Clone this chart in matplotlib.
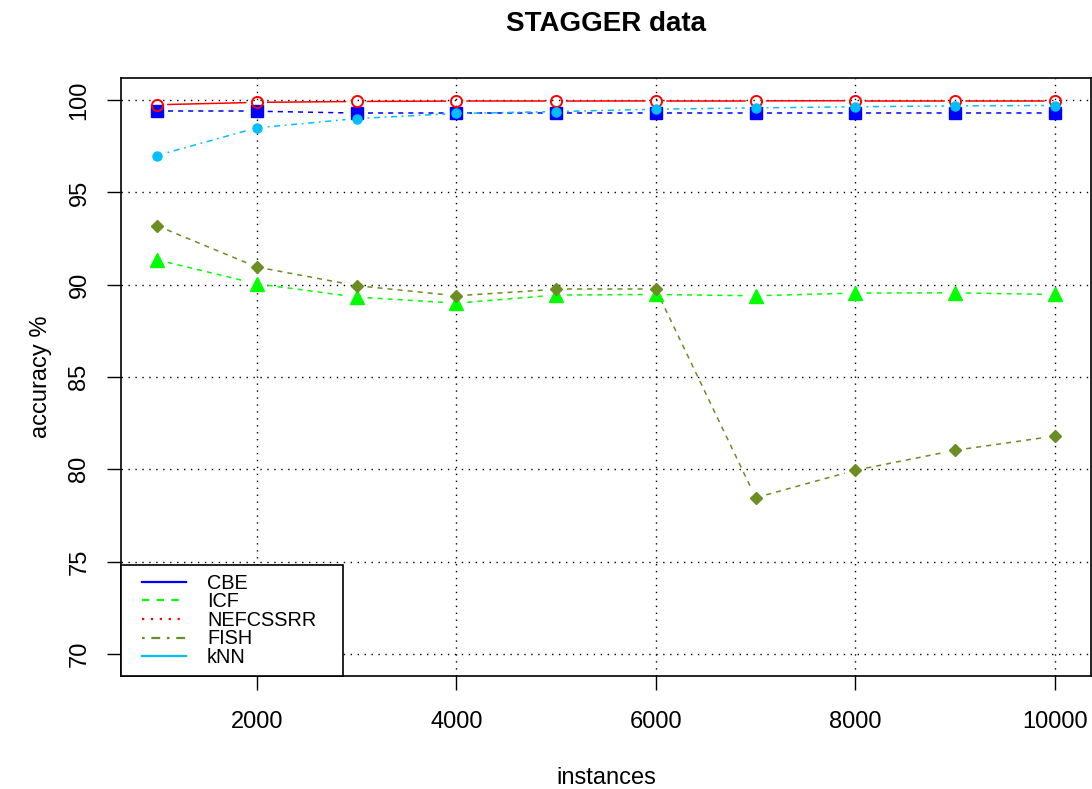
import numpy as np
import matplotlib
matplotlib.use("Agg")
import matplotlib.pyplot as plt
from matplotlib.lines import Line2D
from matplotlib.legend_handler import HandlerLine2D

plt.rcParams['font.family'] = ['Liberation Sans', 'DejaVu Sans']

instances = [1000, 2000, 3000, 4000, 5000, 6000, 7000, 8000, 9000, 10000]
cbe = [99.4, 99.4, 99.3, 99.3, 99.3, 99.3, 99.3, 99.3, 99.3, 99.3]
icf = [91.35, 90.05, 89.33, 89.0, 89.44, 89.47, 89.4, 89.55, 89.56, 89.47]
nefcssrr = [99.75, 99.88, 99.93, 99.95, 99.95, 99.96, 99.96, 99.97, 99.97, 99.97]
fish = [93.2, 90.96, 89.95, 89.4, 89.75, 89.75, 78.46, 79.95, 81.03, 81.8]
knn = [97.0, 98.5, 99.0, 99.28, 99.38, 99.51, 99.58, 99.64, 99.69, 99.71]

series_names = ['CBE', 'ICF', 'NEFCSSRR', 'FISH', 'kNN']
x_ticks = [2000, 4000, 6000, 8000, 10000]
y_ticks = [70, 75, 80, 85, 90, 95, 100]

W, H = 1092, 789
fig = plt.figure(figsize=(W / 100, H / 100), dpi=100)
ax_left, ax_right, ax_top, ax_bot = 121, 1091, 78, 676
ax = fig.add_axes([ax_left / W, 1 - ax_bot / H, (ax_right - ax_left) / W, (ax_bot - ax_top) / H])

ax.set_xlim(640, 10360)
ax.set_ylim(68.8, 101.2)

ax.set_xticks(x_ticks)
ax.set_yticks(y_ticks)
ax.tick_params(direction='out', length=10, width=1, labelsize=17, pad=15)
ax.tick_params(axis='y', pad=12)
for lab in ax.get_yticklabels():
    lab.set_rotation(90)
    lab.set_va('center')
for sp in ax.spines.values():
    sp.set_linewidth(1.2)

ax.grid(True, color='black', linestyle=(0, (1, 4)), linewidth=1.0)
ax.set_axisbelow(True)

dash = (0, (3.3, 3.3))
dotdash = (0, (1.2, 3, 4, 3))
styles = [
    dict(color='#0000FF', ls=dash, marker='s', ms=8, mfc='#0000FF', mec='#0000FF'),
    dict(color='#00FF00', ls=dash, marker='^', ms=10, mfc='#00FF00', mec='#00FF00'),
    dict(color='#FF0000', ls='-', marker='o', ms=8, mfc='none', mec='#FF0000', mew=1.4),
    dict(color='#6B8E23', ls=dash, marker='D', ms=6, mfc='#6B8E23', mec='#6B8E23'),
    dict(color='#00BFFF', ls=dotdash, marker='o', ms=6.5, mfc='#00BFFF', mec='#00BFFF'),
]
data = [cbe, icf, nefcssrr, fish, knn]

gap_px = 11
for ys, st in zip(data, styles):
    pts = ax.transData.transform(np.column_stack([instances, ys]))
    for i in range(len(pts) - 1):
        p0, p1 = pts[i], pts[i + 1]
        d = p1 - p0
        L = np.hypot(*d)
        if L <= 2 * gap_px:
            continue
        u = d / L
        a = ax.transData.inverted().transform(p0 + u * gap_px)
        b = ax.transData.inverted().transform(p1 - u * gap_px)
        ax.plot([a[0], b[0]], [a[1], b[1]], color=st['color'], ls=st['ls'], lw=1.1)
    ax.plot(instances, ys, ls='none', marker=st['marker'], ms=st['ms'],
            mfc=st['mfc'], mec=st['mec'], mew=st.get('mew', 1.0), zorder=3)


class ShiftedLineHandler(HandlerLine2D):
    def __init__(self, frac=0.18, **kw):
        super().__init__(**kw)
        self.frac = frac

    def create_artists(self, legend, orig_handle, xdescent, ydescent,
                       width, height, fontsize, trans):
        y = height / 2 - ydescent
        x0 = -xdescent + width * self.frac
        x1 = -xdescent + width
        ln = Line2D([x0, x1], [y, y])
        self.update_prop(ln, orig_handle, legend)
        ln.set_transform(trans)
        return [ln]


legend_styles = [('#0000FF', '-'), ('#00FF00', dash), ('#FF0000', (0, (1, 3))),
                 ('#6B8E23', dotdash), ('#00BFFF', '-')]
handles = [Line2D([0], [0], color=c, ls=l, lw=1.6) for c, l in legend_styles]
aw = ax_right - ax_left
ah = ax_bot - ax_top
leg = ax.legend(handles, series_names, loc='lower left',
                bbox_to_anchor=(0, 0, 222 / aw, 109 / ah), mode='expand',
                borderaxespad=0, fontsize=14.3, frameon=True, fancybox=False,
                framealpha=1, edgecolor='black', handlelength=2.8,
                handletextpad=1.08, borderpad=0.45, labelspacing=-0.02,
                handler_map={Line2D: ShiftedLineHandler(frac=0.22)})
leg.get_frame().set_linewidth(1.2)

ax.set_xlabel('instances', fontsize=17, labelpad=25)
ax.set_ylabel('accuracy %', fontsize=17, labelpad=12)
ax.set_title('STAGGER data', fontsize=20, fontweight='bold', pad=34)

fig.savefig('out.png', dpi=100)
